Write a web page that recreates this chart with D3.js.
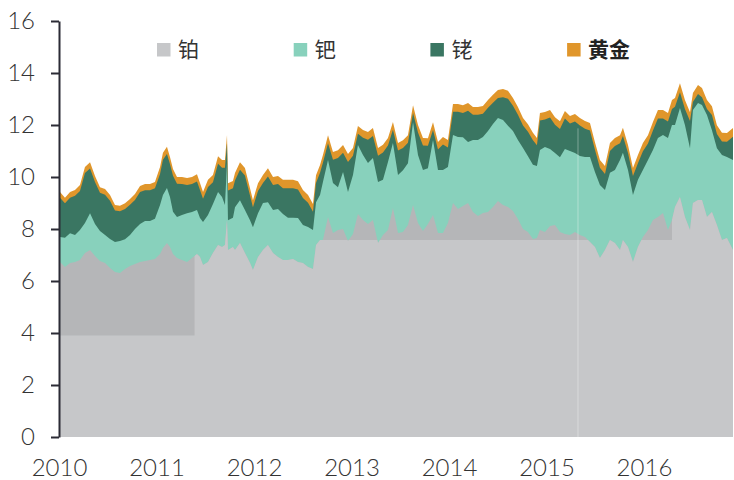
<!DOCTYPE html>
<html><head><meta charset="utf-8">
<script src="https://cdn.jsdelivr.net/npm/d3@7"></script>
<style>
html,body{margin:0;padding:0;background:#fff;}
svg{display:block;}
.axis text{font-family:Lato,"Open Sans",sans-serif;font-weight:300;font-size:24px;fill:#333;}
.legend text{font-family:"Noto Sans CJK SC",sans-serif;font-size:21px;fill:#333;}
</style></head><body>
<svg id="chart" width="734" height="480"></svg>
<script>
const dates = [2010.000,2010.051,2010.103,2010.154,2010.205,2010.256,2010.308,2010.359,2010.410,2010.462,
2010.513,2010.564,2010.615,2010.667,2010.718,2010.769,2010.821,2010.872,2010.923,2010.974,
2011.026,2011.056,2011.097,2011.128,2011.159,2011.200,2011.251,2011.303,2011.354,2011.405,
2011.436,2011.467,2011.518,2011.569,2011.621,2011.662,2011.692,2011.713,2011.723,2011.774,
2011.795,2011.846,2011.897,2011.949,2011.979,2012.031,2012.082,2012.133,2012.185,2012.236,
2012.287,2012.338,2012.390,2012.441,2012.492,2012.544,2012.595,2012.626,2012.667,2012.697,
2012.749,2012.800,2012.851,2012.903,2012.954,2013.005,2013.056,2013.108,2013.159,2013.210,
2013.262,2013.313,2013.364,2013.415,2013.467,2013.518,2013.569,2013.621,2013.672,2013.723,
2013.774,2013.826,2013.877,2013.928,2013.979,2014.031,2014.082,2014.133,2014.185,2014.236,
2014.287,2014.338,2014.390,2014.441,2014.492,2014.544,2014.595,2014.646,2014.697,2014.749,
2014.800,2014.851,2014.892,2014.923,2014.974,2015.026,2015.077,2015.128,2015.179,2015.231,
2015.282,2015.333,2015.385,2015.436,2015.487,2015.538,2015.590,2015.641,2015.692,2015.744,
2015.774,2015.826,2015.877,2015.928,2015.979,2016.031,2016.082,2016.133,2016.185,2016.236,
2016.277,2016.308,2016.359,2016.410,2016.462,2016.492,2016.544,2016.585,2016.636,2016.687,
2016.738,2016.790,2016.841,2016.903];

const platinum = [6.73,6.54,6.69,6.73,6.81,7.08,7.19,6.96,6.77,6.69,
6.50,6.35,6.31,6.46,6.58,6.65,6.73,6.77,6.81,6.85,
7.04,7.27,7.46,7.31,7.04,6.88,6.81,6.73,6.88,7.04,
6.92,6.62,6.73,7.08,7.38,7.31,7.38,8.35,7.19,7.31,
7.19,7.46,7.08,6.69,6.42,6.92,7.19,7.38,7.08,6.92,
6.81,6.81,6.85,6.73,6.69,6.54,6.46,7.38,7.58,7.58,
8.46,7.85,7.96,8.00,7.54,7.81,8.58,8.35,8.19,8.35,
7.46,7.77,7.96,8.81,7.85,7.88,8.15,8.92,8.23,7.92,
8.19,8.54,7.85,7.85,8.23,9.00,8.77,8.88,9.00,8.65,
8.50,8.62,8.65,8.85,9.08,8.92,8.85,8.69,8.38,8.00,
7.88,7.62,7.65,7.96,7.88,8.12,8.15,7.88,7.81,7.77,
7.88,7.77,7.69,7.50,7.31,6.88,7.19,7.58,7.46,7.19,
7.58,7.31,6.73,7.31,7.69,7.96,8.35,8.46,8.62,7.96,
8.35,8.85,9.23,8.46,7.96,9.00,9.12,9.12,8.46,8.65,
8.15,7.58,7.65,7.19];

const palladium = [0.96,1.12,1.15,1.04,1.15,1.15,1.42,1.23,1.15,1.08,
1.12,1.15,1.23,1.15,1.19,1.35,1.46,1.54,1.50,1.54,
1.88,2.04,2.12,1.92,1.62,1.58,1.73,1.88,1.77,1.69,
1.50,1.65,1.81,1.88,2.04,1.92,1.54,2.19,1.15,1.12,
1.65,1.65,1.65,1.65,1.65,1.69,1.81,1.65,1.65,1.85,
1.77,1.62,1.58,1.69,1.46,1.54,1.50,1.65,1.73,2.23,
2.19,1.92,1.65,2.19,1.88,2.27,2.65,2.50,2.35,2.38,
2.35,2.12,2.62,2.50,2.23,2.38,2.38,3.19,2.62,2.35,
2.15,2.88,2.42,2.42,2.15,2.62,2.77,2.65,2.35,2.77,
2.92,2.92,3.12,3.19,3.19,3.27,3.12,3.08,3.04,3.12,
2.92,2.85,2.77,3.08,3.27,2.96,2.77,2.88,3.27,3.23,
3.04,3.04,3.08,3.27,2.88,2.81,2.31,2.58,2.81,3.46,
3.35,2.96,2.58,2.58,2.58,2.69,2.69,3.04,3.00,3.54,
3.65,3.15,3.42,3.54,3.15,3.58,3.73,3.65,3.92,3.15,
2.96,3.27,3.12,3.46];

const rhodium = [1.51,1.33,1.36,1.51,1.50,1.92,1.72,1.62,1.47,1.55,
1.47,1.21,1.14,1.16,1.16,1.12,1.23,1.18,1.18,1.18,
1.20,1.35,1.30,1.27,1.39,1.28,1.19,1.08,1.08,1.10,
1.08,0.89,1.08,0.84,1.09,1.13,1.44,0.76,1.14,1.14,
1.03,1.17,1.33,0.95,0.77,0.85,0.77,0.99,0.96,0.96,
0.99,1.14,1.14,1.10,1.04,0.93,0.70,0.74,0.85,0.74,
0.65,0.89,1.12,0.74,1.16,0.74,0.43,0.66,0.89,0.85,
1.01,1.05,0.63,0.51,0.94,0.86,0.79,0.35,0.86,0.94,
0.86,0.39,0.79,0.98,0.75,0.89,0.97,0.93,1.20,0.97,
0.97,0.89,0.89,0.82,0.77,0.88,1.04,0.97,0.97,0.86,
0.94,0.94,0.80,1.13,1.06,1.21,1.09,1.09,1.17,1.06,
1.21,1.17,1.09,1.02,0.86,0.67,0.62,0.84,0.92,0.65,
0.65,0.65,0.73,0.64,0.72,0.64,0.75,0.75,0.63,0.63,
0.62,0.70,0.61,0.62,1.04,0.30,0.34,0.30,0.24,0.58,
0.54,0.52,0.59,0.90];

const gold = [0.22,0.21,0.22,0.22,0.23,0.23,0.24,0.23,0.22,0.22,
0.22,0.21,0.21,0.22,0.22,0.23,0.23,0.24,0.24,0.24,
0.26,0.27,0.28,0.27,0.26,0.26,0.27,0.27,0.27,0.28,
0.27,0.26,0.27,0.28,0.29,0.29,0.29,0.32,0.28,0.28,
0.28,0.29,0.29,0.28,0.27,0.30,0.31,0.32,0.31,0.31,
0.32,0.32,0.32,0.32,0.31,0.30,0.30,0.30,0.30,0.30,
0.31,0.30,0.30,0.30,0.30,0.30,0.30,0.30,0.30,0.30,
0.30,0.30,0.29,0.30,0.29,0.29,0.29,0.30,0.29,0.29,
0.29,0.30,0.29,0.29,0.29,0.30,0.30,0.30,0.30,0.30,
0.30,0.30,0.30,0.30,0.31,0.31,0.31,0.30,0.30,0.29,
0.29,0.29,0.28,0.29,0.29,0.29,0.29,0.29,0.29,0.29,
0.29,0.29,0.29,0.29,0.29,0.29,0.30,0.31,0.31,0.31,
0.31,0.31,0.31,0.32,0.32,0.32,0.33,0.33,0.33,0.33,
0.34,0.34,0.35,0.34,0.34,0.35,0.35,0.35,0.34,0.34,
0.34,0.33,0.33,0.33];

const seriesKeys = ["platinum","palladium","rhodium","gold"];
const seriesLabels = ["铂","钯","铑","黄金"];
const seriesColors = ["#c6c7c9","#88d1bc","#3a7662","#e0962b"];
const platinumShade = "#b5b6b8";
// ranges where the lighter platinum fill is capped at a level (null = no cap)
const platinumBands = [
  {start:2010.000, end:2011.380, cap:3.9},
  {start:2011.380, end:2012.667, cap:null},
  {start:2012.667, end:2016.277, cap:7.58},
  {start:2016.277, end:2016.903, cap:null}
];
const gapDates = [2015.313];
const yTicks = [0,2,4,6,8,10,12,14,16];
const xTicks = [2010,2011,2012,2013,2014,2015,2016];

const svg = d3.select("#chart");
const x = d3.scaleLinear().domain([2010, 2016.903]).range([60, 733]);
const y = d3.scaleLinear().domain([0, 16]).range([437, 21]);

const rows = dates.map((d,i)=>({date:d, platinum:platinum[i], palladium:palladium[i], rhodium:rhodium[i], gold:gold[i]}));
const stacked = d3.stack().keys(seriesKeys)(rows);

const areaFromZero = d3.area().x(d=>x(d.data.date)).y0(y(0)).y1(d=>y(d[1]));

for (let i = stacked.length - 1; i >= 1; i--) {
  svg.append("path").datum(stacked[i]).attr("d", areaFromZero).attr("fill", seriesColors[i]);
}
svg.append("path").datum(stacked[0]).attr("d", areaFromZero).attr("fill", platinumShade);
const clip = svg.append("defs").append("clipPath").attr("id","ptclip");
clip.selectAll("rect").data(platinumBands).join("rect")
  .attr("x", d=>x(d.start)).attr("width", d=>x(d.end)-x(d.start))
  .attr("y", d=> d.cap==null ? 0 : y(d.cap))
  .attr("height", d=> y(0) - (d.cap==null ? 0 : y(d.cap)) + 2);
svg.append("path").datum(stacked[0]).attr("d", areaFromZero).attr("fill", seriesColors[0]).attr("clip-path","url(#ptclip)");

const topAt = t => { const i = d3.bisectLeft(dates, t); return stacked[3][Math.min(i, dates.length-1)][1]; };
svg.selectAll("line.gap").data(gapDates).join("line").attr("class","gap")
  .attr("x1", d=>x(d)).attr("x2", d=>x(d)).attr("y1", y(0)).attr("y2", d=>y(topAt(d)-0.4))
  .attr("stroke","#fff").attr("stroke-opacity",0.35).attr("stroke-width",1);

const yAxis = svg.append("g").attr("class","axis").attr("transform","translate(59,0)")
  .call(d3.axisLeft(y).tickValues(yTicks).tickSize(8).tickSizeOuter(0).tickPadding(16));
yAxis.selectAll("path,line").attr("stroke","#2b2b35").attr("stroke-width",2);

const xAxis = svg.append("g").attr("class","axis").attr("transform","translate(-1,437)")
  .call(d3.axisBottom(x).tickValues(xTicks).tickFormat(d3.format("d")).tickSize(0).tickPadding(22));
xAxis.select(".domain").remove();

const legend = svg.append("g").attr("class","legend");
const items = legend.selectAll("g").data(seriesLabels).join("g")
  .attr("transform", (d,i)=>`translate(${157 + i*136.7},0)`);
items.append("rect").attr("x",0).attr("y",43).attr("width",13.5).attr("height",13.5)
  .attr("fill",(d,i)=>seriesColors[i]);
items.append("text").attr("x",21).attr("y",48).attr("dominant-baseline","central")
  .style("font-weight",(d,i)=> i===3 ? 700 : 400)
  .style("fill",(d,i)=> i===3 ? "#222" : "#333")
  .text(d=>d);
</script>
</body></html>
